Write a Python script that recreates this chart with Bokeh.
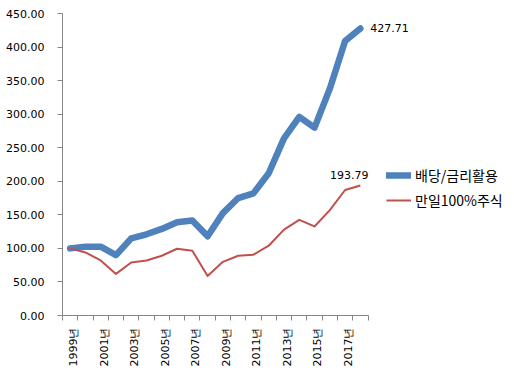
from bokeh.plotting import figure
from bokeh.models import (Range1d, FixedTicker, PrintfTickFormatter, Legend, LegendItem)
from bokeh.core.properties import value
from bokeh.embed import file_html
from bokeh.resources import INLINE
import math

years = ["1999년", "2000년", "2001년", "2002년", "2003년", "2004년", "2005년", "2006년",
         "2007년", "2008년", "2009년", "2010년", "2011년", "2012년", "2013년", "2014년",
         "2015년", "2016년", "2017년", "2018년"]
dividend = [100, 102.5, 102.5, 90, 115, 121, 129, 139, 141.6, 118, 152.5, 175, 182,
            212, 264, 296, 280, 338, 409, 427.71]
stocks = [100, 94, 82, 62, 79, 82, 89, 99.5, 96.5, 59, 80, 89, 90.6,
          104, 128, 142.6, 132.7, 157, 187, 193.79]
series_names = ["배당/금리활용", "만일100%주식"]
y_ticks = [0, 50, 100, 150, 200, 250, 300, 350, 400, 450]

n = len(years)
xs = [i + 0.5 for i in range(n)]

W, H = 512, 369
left, top, bottom = 62, 13, 53
frame_w = W - left
axis_px = 305.5
p = figure(width=W, height=H, output_backend="svg", toolbar_location=None,
           x_range=Range1d(0, n * frame_w / axis_px), y_range=Range1d(0, 450))
p.min_border_left = left
p.min_border_right = 0
p.min_border_top = top
p.min_border_bottom = bottom
p.outline_line_color = None
p.xgrid.visible = False
p.ygrid.visible = False
p.background_fill_color = "white"
p.border_fill_color = "white"

axis_col = "#868686"
font = "DejaVu Sans"

# x axis (labels nudged slightly right of the category centre, like the original)
label_shift = 0.22
xa = p.xaxis[0]
xa.bounds = (0, n)
label_pos = [xs[i] + label_shift for i in range(0, n, 2)]
xa.ticker = FixedTicker(ticks=label_pos, minor_ticks=list(range(n + 1)))
xa.major_label_overrides = {xs[i] + label_shift: years[i] for i in range(0, n, 2)}
xa.major_label_orientation = math.pi / 2
xa.major_tick_line_color = None
xa.major_tick_out = 5
xa.major_tick_in = 0
xa.minor_tick_line_color = axis_col
xa.minor_tick_out = 5
xa.minor_tick_in = 0
xa.axis_line_color = axis_col
xa.major_label_standoff = 7
xa.major_label_text_font = font
xa.major_label_text_font_size = "11px"
xa.major_label_text_color = "black"

# y axis
ya = p.yaxis[0]
ya.ticker = FixedTicker(ticks=y_ticks)
ya.formatter = PrintfTickFormatter(format="%.2f")
ya.major_tick_line_color = axis_col
ya.major_tick_out = 5
ya.major_tick_in = 0
ya.minor_tick_line_color = None
ya.axis_line_color = axis_col
ya.major_label_standoff = 13
ya.major_label_text_font = font
ya.major_label_text_font_size = "11px"
ya.major_label_text_color = "black"

blue = "#4F81BD"
red = "#C0504D"
r1 = p.line(xs, dividend, line_color=blue, line_width=6.5, line_join="round", line_cap="round")
r2 = p.line(xs, stocks, line_color=red, line_width=2, line_join="round")

# data labels for last points
p.text(x=[xs[-1]], y=[dividend[-1]], text=["%.2f" % dividend[-1]], x_offset=10,
       text_baseline="middle", text_align="left", text_font=value(font),
       text_font_size="11px", text_color="black")
p.text(x=[xs[-1]], y=[stocks[-1]], text=["%.2f" % stocks[-1]], x_offset=-11, y_offset=-10,
       text_baseline="middle", text_align="center", text_font=value(font),
       text_font_size="11px", text_color="black")

legend = Legend(items=[LegendItem(label=series_names[0], renderers=[r1]),
                       LegendItem(label=series_names[1], renderers=[r2])],
                location=(324, 105))
legend.padding = 0
legend.margin = 0
legend.spacing = 5
legend.glyph_width = 25
legend.glyph_height = 20
legend.label_height = 20
legend.label_standoff = 4
legend.border_line_color = None
legend.background_fill_alpha = 0
legend.label_text_font = "Noto Sans CJK KR"
legend.label_text_font_size = "14px"
legend.label_text_color = "black"
p.add_layout(legend, "center")

open("out.html", "w").write(file_html(p, INLINE))
